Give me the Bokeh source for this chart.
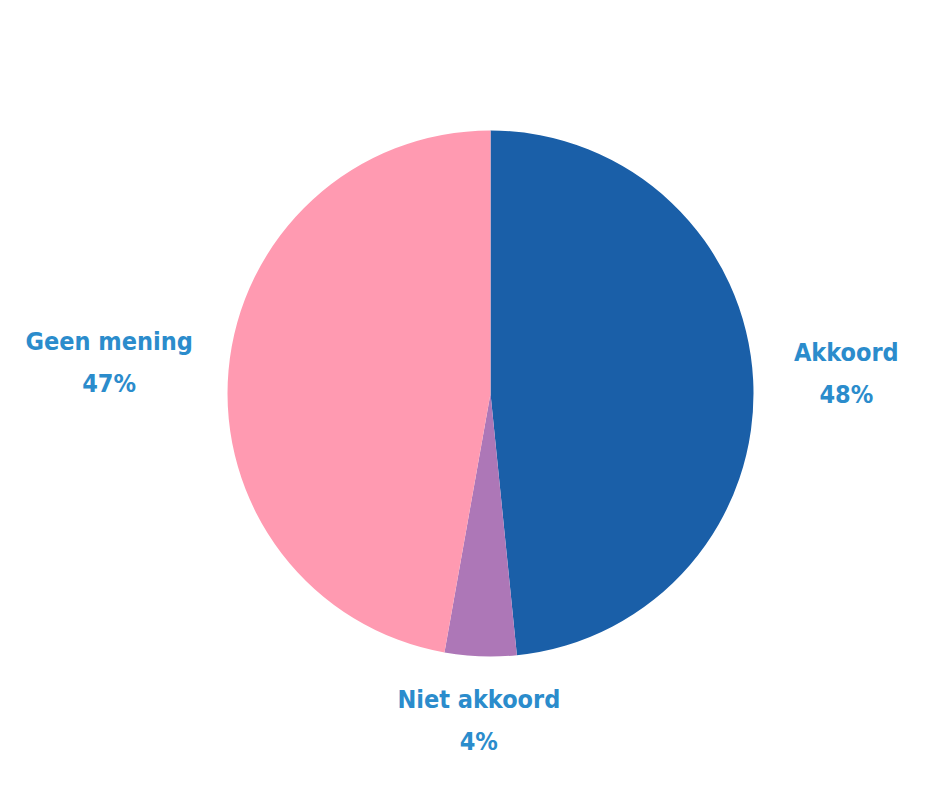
import math
from bokeh.plotting import figure
from bokeh.models import Range1d, ColumnDataSource
from bokeh.core.properties import value
from bokeh.embed import file_html
from bokeh.resources import INLINE

categories = ["Akkoord", "Niet akkoord", "Geen mening"]
shares = [48.4, 4.4, 47.2]
pct_labels = ["48%", "4%", "47%"]
colors = ["#1a5fa8", "#ad77b7", "#ff9ab1"]

W, H = 924, 772
cx, cy, r = 490, 379, 263
label_gap = 310
half_char = 6.6
side_lift = 4
bottom_drop = 17
line_sep = 21

p = figure(width=W, height=H, output_backend="svg", toolbar_location=None,
           x_range=Range1d(0, W), y_range=Range1d(0, H), min_border=0)
p.axis.visible = False
p.grid.visible = False
p.outline_line_color = None
p.background_fill_color = "white"

total = sum(shares)
starts, ends, mids = [], [], []
a = math.pi / 2
for s in shares:
    sweep = 2 * math.pi * s / total
    starts.append(a)
    ends.append(a - sweep)
    mids.append(a - sweep / 2)
    a -= sweep

src = ColumnDataSource(dict(x=[cx] * 3, y=[cy] * 3, start=starts, end=ends, color=colors))
p.wedge(x="x", y="y", radius=r, start_angle="start", end_angle="end", direction="clock",
        fill_color="color", line_color=None, source=src)

lx, nl, pl = [], [], []
for m, name in zip(mids, categories):
    c, s = math.cos(m), math.sin(m)
    x = cx + label_gap * c
    y = cy + label_gap * s
    if c > 0.3:
        x += half_char * len(name)
        y += side_lift
    elif c < -0.3:
        x -= half_char * len(name)
        y += side_lift
    else:
        y -= bottom_drop
    lx.append(x)
    nl.append(y + line_sep)
    pl.append(y - line_sep)

font = value("DejaVu Sans Condensed")
ls = ColumnDataSource(dict(x=lx, ny=nl, py=pl, name=categories, pct=pct_labels))
for col, txt in (("ny", "name"), ("py", "pct")):
    p.text(x="x", y=col, text=txt, text_align="center", text_baseline="middle",
           text_font=font, text_font_style="bold", text_font_size="25px",
           text_color="#2b8ccc", source=ls)

open("out.html", "w").write(file_html(p, INLINE))
